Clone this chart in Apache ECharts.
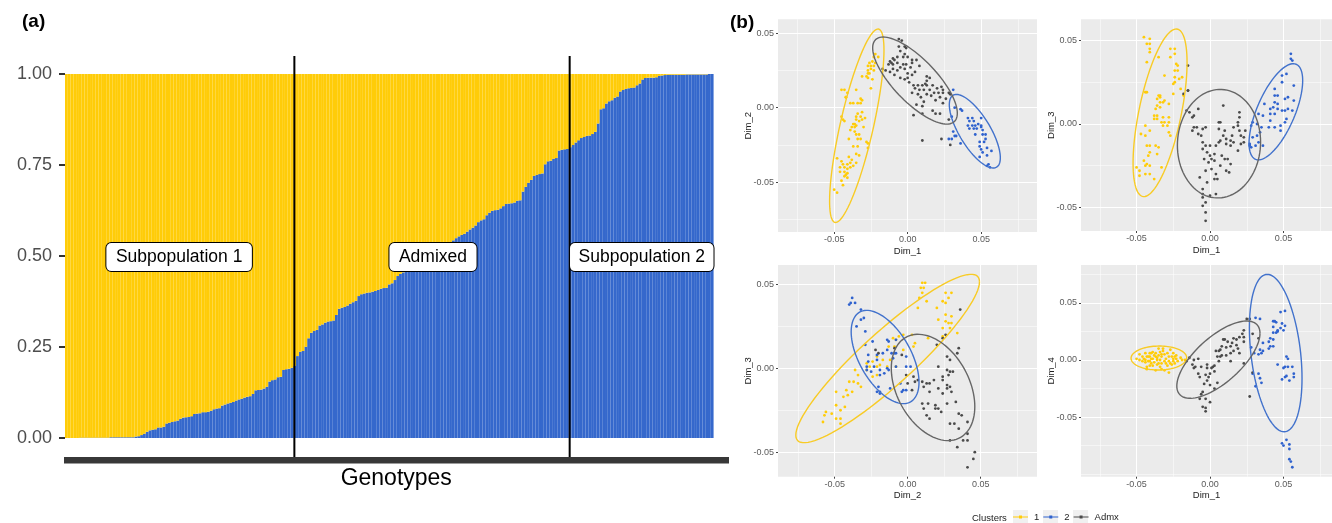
<!DOCTYPE html>
<html><head><meta charset="utf-8">
<style>html,body{margin:0;padding:0;background:#fff}#c{width:1332px;height:523px}</style>
<script src="https://cdn.jsdelivr.net/npm/echarts@6/dist/echarts.min.js"></script>
</head><body><div id="c"></div>
<script>
// Panel (a): blue (Subpopulation 2) share of each genotype, read bar by bar
const share2 = [0,0,0,0,0,.001,.001,.001,.001,.001,.001,.001,.001,.001,.001,.001,.002,.002,.002,.002,.002,.002,.002,.002,.002,
.004,.005,.008,.012,.017,.021,.023,.024,.029,.029,.031,.040,.042,.044,.046,.048,.053,.056,.057,.058,.060,.066,.067,.068,.071,.071,.072,.075,.079,.081,.082,.089,.092,.095,.097,.099,.103,.106,.108,.111,.113,.115,.121,.131,.132,.133,.136,.141,.155,.159,.161,.167,.168,.187,.189,.190,.193,.198,
.225,.237,.239,.251,.274,.289,.294,.297,.309,.312,.317,.320,.321,.323,.338,.355,.358,.360,.364,.369,.373,.377,.390,.395,.397,.399,.400,.402,.404,.407,.410,.412,.413,.422,.425,.434,.445,.451,.455,
.462,.468,.473,.478,.482,.486,.490,.495,.500,.505,.510,.514,.518,.523,.527,.531,.537,.543,.549,.554,
.558,.561,.567,.573,.578,.584,.593,.598,.601,.612,.619,.624,.626,.627,.631,.637,.643,.644,.645,.647,.652,.653,.677,.690,.701,.709,.720,.723,.725,.727,.752,.760,.762,.767,.769,.790,.792,.793,.794,.799,
.805,.812,.818,.824,.827,.830,.831,.835,.841,.864,.903,.906,.919,.925,.928,.935,.938,.952,.956,.959,.961,.962,.963,.969,.974,.985,.989,.990,.990,.990,.991,.995,.996,.997,.998,.998,.998,.998,.998,.998,.998,.999,.999,.999,.999,.999,.999,.999,.999,1,1];
const genotypeSlots = Array.from({length:238},(_,i)=>'G'+(i+1));
const dividerSlots = [82.4,181.3];
const groupLabels = ['Subpopulation 1','Admixed','Subpopulation 2'];
const groupLabelSlots = [41,132.2,207.2];
const groupLabelShare = [.497,.497,.497];
const shareTicks = [0,.25,.5,.75,1];

// Panel (b): points, in thousandths of the Dim units
const d1d2_1 = [[-22,36],[-23,34],[-20,34],[-26,30],[-24,31],[-22,30],[-27,28],[-25,28],[-23,28],[-27,25],[-25,26],[-23,25],[-27,23],[-26,23],[-31,21],[-28,21],[-24,19],[-27,20],[-25,13],[-35,12],[-45,12],[-43,12],[-41,10],[-42,7],[-42,7],[-32,6],[-31,5],[-39,3],[-37,3],[-34,3],[-32,3],[-31,-3],[-34,-4],[-35,-6],[-45,-6],[-44,-8],[-43,-9],[-32,-6],[-29,-7],[-35,-8],[-33,-9],[-37,-11],[-35,-12],[-38,-13],[-36,-13],[-30,-13],[-39,-15],[-35,-18],[-33,-18],[-40,-21],[-34,-21],[-32,-21],[-28,-23],[-27,-24],[-37,-26],[-34,-26],[-27,-27],[-35,-31],[-33,-32],[-48,-34],[-40,-33],[-45,-36],[-39,-37],[-35,-37],[-44,-38],[-41,-38],[-37,-39],[-46,-40],[-43,-40],[-39,-40],[-46,-43],[-41,-44],[-42,-45],[-43,-46],[-45,-49],[-41,-47],[-44,-52],[-50,-55],[-48,-57],[-38,-35],[-43,-43],[-41,-41],[-31,-8],[-36,-16],[-36,-11]];
const d1d2_2 = [[31,12],[36,-1],[37,-2],[32,0],[30,-6],[41,-7],[44,-7],[50,-7],[42,-9],[45,-9],[41,-12],[44,-12],[46,-12],[48,-11],[50,-12],[42,-14],[45,-14],[47,-14],[50,-13],[51,-15],[51,-18],[53,-18],[46,-18],[53,-21],[49,-23],[52,-23],[33,-19],[32,-19],[31,-16],[36,-24],[28,-21],[30,-21],[49,-26],[50,-28],[54,-27],[51,-30],[57,-29],[49,-33],[54,-32],[55,-38],[54,-39],[56,-40]];
const d1d2_a = [[-6,46],[-4,45],[-6,41],[-2,41],[-1,40],[-5,38],[-2,36],[-7,34],[-10,33],[-12,31],[-9,32],[-3,34],[0,34],[3,32],[6,32],[-11,30],[-13,29],[-10,29],[-7,30],[-3,29],[-1,29],[3,30],[2,27],[-17,26],[-15,25],[-12,24],[-10,26],[-7,25],[-2,26],[0,23],[3,22],[-9,22],[-5,20],[-2,19],[0,20],[13,21],[15,20],[13,18],[4,15],[7,15],[10,15],[13,15],[17,15],[20,13],[23,14],[24,12],[5,13],[8,12],[11,12],[15,12],[3,10],[7,9],[13,9],[21,10],[24,10],[28,10],[29,9],[22,7],[19,5],[11,4],[6,2],[10,1],[24,3],[17,-2],[19,-4],[22,-4],[4,-5],[10,-4],[28,-8],[10,-22],[23,-21],[29,-25],[5,24],[8,28],[-5,27],[16,8],[9,7],[26,6],[12,16],[1,17],[18,10]];

const d1d3_1 = [[-45,52],[-41,51],[-43,48],[-41,48],[-41,45],[-41,43],[-35,40],[-27,45],[-24,45],[-24,42],[-27,40],[-43,37],[-23,36],[-22,35],[-31,29],[-24,32],[-22,32],[-24,28],[-19,28],[-21,27],[-24,25],[-25,24],[-20,21],[-44,19],[-43,19],[-25,18],[-18,17],[-35,17],[-34,17],[-36,15],[-34,16],[-31,14],[-32,13],[-34,13],[-36,11],[-34,10],[-37,9],[-28,12],[-38,5],[-36,5],[-32,4],[-28,4],[-38,3],[-36,3],[-33,1],[-31,1],[-28,1],[-29,-1],[-32,-1],[-44,-1],[-41,-4],[-47,-6],[-44,-7],[-28,-5],[-27,-7],[-43,-13],[-41,-13],[-37,-13],[-35,-14],[-41,-17],[-42,-19],[-36,-18],[-45,-22],[-43,-24],[-50,-26],[-48,-28],[-44,-25],[-41,-25],[-33,-26],[-48,-31],[-44,-30],[-41,-30],[-38,-33]];
const d1d3_2 = [[55,42],[55,39],[56,38],[52,30],[49,29],[49,25],[44,21],[44,17],[46,17],[57,23],[51,15],[53,16],[44,13],[46,12],[37,12],[57,14],[41,9],[43,10],[46,9],[49,8],[51,8],[53,9],[56,8],[41,6],[44,6],[52,3],[51,1],[36,5],[33,6],[41,2],[40,-2],[44,-2],[48,-1],[48,-4],[29,1],[28,-1],[32,0],[35,-2],[34,-5],[32,-7],[29,-8],[33,-11],[27,-12],[28,-14],[31,-13],[36,-13],[27,-13]];
const d1d3_a = [[-15,35],[-15,20],[-18,18],[-15,20],[9,11],[-16,8],[-14,7],[-8,9],[-11,5],[-12,4],[20,7],[20,4],[6,1],[7,1],[19,-1],[16,-2],[19,1],[-11,-2],[-12,-4],[-9,-2],[-3,-2],[-5,-3],[-8,-6],[-6,-7],[6,-3],[10,-4],[15,-7],[20,-4],[24,-4],[23,-8],[21,-7],[9,-7],[11,-9],[7,-10],[6,-11],[14,-10],[16,-11],[-5,-11],[-3,-13],[0,-13],[4,-13],[23,-11],[19,-16],[21,-12],[14,-13],[11,-12],[-5,-15],[-2,-17],[0,-19],[1,-21],[-4,-21],[3,-18],[8,-19],[10,-21],[12,-21],[14,-24],[7,-25],[3,-22],[-1,-23],[11,-28],[13,-29],[-3,-28],[1,-27],[4,-30],[-7,-32],[3,-33],[5,-33],[-2,-35],[-5,-39],[-5,-42],[0,-43],[4,-42],[-5,-44],[-3,-47],[-5,-49],[-3,-53],[-3,-58]];

const d2d3_1 = [[10,51],[12,51],[9,48],[11,48],[10,45],[8,42],[13,40],[7,36],[26,45],[30,45],[24,40],[28,42],[26,39],[20,36],[26,32],[21,29],[30,31],[26,28],[28,27],[30,27],[24,24],[29,24],[34,21],[14,18],[24,19],[3,20],[-3,20],[-6,19],[-10,18],[-8,17],[-13,13],[-9,13],[5,15],[4,13],[-3,11],[-21,7],[-24,4],[-17,5],[-12,5],[-28,-1],[-26,1],[-21,1],[-14,1],[-8,1],[-36,-1],[-34,-4],[-24,-5],[-21,-4],[-40,-8],[-37,-8],[-42,-13],[-38,-14],[-49,-14],[-41,-16],[-44,-17],[-49,-22],[-43,-23],[-46,-25],[-52,-27],[-56,-26],[-57,-28],[-58,-32],[-49,-30],[-46,-30],[-46,-33],[-32,-11],[-34,-9],[-19,2],[-28,3]];
const d2d3_2 = [[-38,42],[-40,38],[-39,39],[-36,39],[-32,35],[-30,30],[-32,29],[-35,25],[-29,22],[-24,16],[-29,14],[-14,17],[-13,16],[-8,17],[-27,8],[-21,8],[-14,11],[-17,9],[-11,9],[-9,9],[-8,9],[-21,5],[-27,4],[-10,6],[-1,7],[-28,1],[-23,1],[-19,-1],[-14,0],[-13,-1],[-8,1],[-1,1],[2,1],[-25,-2],[-28,-1],[-19,-4],[-16,-3],[-20,-11],[-21,-14],[-19,-14],[-12,-12],[-5,-9],[-1,-13],[-4,-14],[-3,-13],[-19,-15]];
const d2d3_a = [[36,35],[26,20],[24,18],[20,14],[35,12],[34,9],[27,7],[29,5],[-22,11],[-20,9],[-9,12],[-4,8],[21,1],[27,-1],[29,-2],[31,-2],[24,-5],[28,-4],[-1,-4],[4,-5],[5,-8],[7,-7],[10,-8],[13,-9],[15,-9],[18,-7],[24,-7],[29,-11],[27,-10],[0,-9],[3,-13],[11,-11],[15,-14],[21,-12],[27,-12],[24,-15],[30,-14],[10,-21],[14,-21],[19,-22],[21,-24],[27,-21],[33,-20],[11,-24],[13,-28],[15,-30],[19,-24],[23,-26],[35,-27],[37,-28],[29,-33],[32,-33],[35,-36],[41,-32],[41,-39],[38,-43],[29,-43],[41,-43],[34,-47],[46,-50],[45,-54],[41,-59]];

const d1d4_1 = [[-50,1],[-48,5],[-44,6],[-41,6],[-39,7],[-35,10],[-32,8],[-27,9],[-25,6],[-23,4],[-20,2],[-17,0],[-45,1],[-44,-2],[-42,-1],[-40,1],[-37,3],[-35,4],[-33,3],[-31,5],[-28,3],[-25,1],[-43,-6],[-41,-5],[-38,-2],[-36,0],[-34,0],[-31,-1],[-28,-1],[-25,-1],[-23,1],[-43,-8],[-37,-9],[-33,-8],[-28,-11],[-33,-3],[-29,-5],[-39,-5],[-48,0],[-46,3],[-43,3],[-41,-1],[-36,-4],[-19,0],[-22,-1],[-40,6],[-32,10],[-34,7],[-37,6],[-26,-4],[-24,3],[-44,0],[-39,1],[-34,-6],[-31,-9],[-42,3],[-38,4],[-30,1],[-26,3],[-35,-3],[-30,-3],[-46,-1],[-41,3],[-33,5],[-29,6],[-36,2],[-40,-3],[-27,-3],[-24,-3]];
const d1d4_2 = [[31,37],[34,36],[48,42],[51,43],[43,34],[44,34],[45,33],[49,32],[51,30],[43,29],[48,28],[46,26],[45,24],[43,24],[50,26],[41,19],[43,18],[46,25],[40,16],[36,15],[34,9],[41,12],[43,12],[40,10],[36,8],[35,6],[33,5],[28,11],[30,6],[52,3],[53,1],[46,-4],[51,-6],[53,-6],[56,-6],[50,-7],[29,-12],[33,-12],[34,-16],[35,-20],[31,-23],[52,-14],[51,-15],[57,-12],[57,-15],[49,-17],[54,-18],[49,-73],[52,-70],[50,-75],[54,-74],[54,-78],[54,-87],[55,-89],[56,-94]];
const d1d4_a = [[25,36],[27,36],[29,23],[23,26],[22,23],[23,20],[20,20],[18,18],[16,19],[9,18],[10,18],[12,16],[15,15],[14,12],[11,11],[8,12],[6,8],[7,9],[4,8],[5,3],[8,4],[11,4],[16,8],[19,10],[23,16],[23,-3],[33,19],[20,6],[14,6],[-14,2],[-16,-1],[-11,0],[-8,1],[-12,-4],[-10,-6],[-11,-7],[-6,-6],[-2,-4],[1,-7],[2,-6],[3,-5],[6,-1],[7,3],[-8,-12],[-7,-15],[-3,-13],[-1,-15],[0,-12],[3,-10],[-2,-18],[-4,-21],[0,-22],[5,-20],[3,-25],[-5,-28],[-6,-30],[-7,-34],[-3,-34],[0,-37],[-5,-41],[-3,-42],[-3,-45],[27,-32],[29,-11],[14,-1],[18,13],[-2,-7]];

// Ellipses: centre x, centre y, half-extent x, half-extent y, correlation
const e1 = {c1:[-.0346,-.0121,.0185,.0649,.78], c2:[.0457,-.0158,.01735,.0247,-.72], a:[.005,.0182,.0288,.0292,-.75]};
const e2 = {c1:[-.034,.0067,.01837,.0502,.6], c2:[.0448,.0073,.01825,.0288,.65], a:[.0061,-.0118,.0283,.0325,.03]};
const e3 = {c1:[-.0137,.00586,.0629,.0502,.91], c2:[-.01545,.00676,.02323,.0278,-.54], a:[.0174,-.0114,.0286,.0317,-.36]};
const e4 = {c1:[-.0348,.00175,.01893,.0105,.02], c2:[.0447,.0061,.0179,.069,-.32], a:[.0057,.0003,.0283,.0339,.68]};

const clusterNames = ['1','2','Admx'];
const majorX = [-.05,0,.05];
const majorY = [-.05,0,.05];
const minorX = [-.075,-.025,.025,.075];
const minorYa = [-.075,-.025,.025];
const minorYb = [-.025,.025];
const minorYc = [-.1,-.075,-.025,.025,.075];

const YEL='#FFCC08', BLU='#3568CC', GRY='#4a4a4a';
const ptCol={ '1':YEL, '2':'#2F62CE', 'Admx':GRY };
const ellCol={ '1':'#F8CB25', '2':'#4272CC', 'Admx':'#666666' };
const FONT='"Liberation Sans", Arial, sans-serif';

const panels=[
 {box:[778,19.3,259,212.7],xr:[-.0882,.088],yr:[-.0834,.0593],xn:'Dim_1',yn:'Dim_2',minY:minorYa,pts:[d1d2_1,d1d2_2,d1d2_a],ell:e1},
 {box:[1081,19.3,251,211.7],xr:[-.0878,.083],yr:[-.0641,.0627],xn:'Dim_1',yn:'Dim_3',minY:minorYb,pts:[d1d3_1,d1d3_2,d1d3_a],ell:e2},
 {box:[778,265,259,211.7],xr:[-.0888,.0886],yr:[-.0646,.0616],xn:'Dim_2',yn:'Dim_3',minY:minorYb,pts:[d2d3_1,d2d3_2,d2d3_a],ell:e3},
 {box:[1081,265,251,211.7],xr:[-.0878,.083],yr:[-.1023,.0833],xn:'Dim_1',yn:'Dim_4',minY:minorYc,pts:[d1d4_1,d1d4_2,d1d4_a],ell:e4}
];

const grids=[{left:65,top:56,width:662.5,height:401,show:false}];
const S0=-.0522, S1=1.0495;
const noLine={show:false,onZero:false};
const xAxes=[
 {type:'category',gridIndex:0,data:genotypeSlots,position:'bottom',
  name:'Genotypes',nameLocation:'middle',nameGap:10,nameMoveOverlap:false,nameTextStyle:{fontSize:23,color:'#000',fontFamily:FONT,verticalAlign:'top'},
  axisLine:noLine,axisLabel:{show:false},splitLine:{show:false},
  axisTick:{show:true,interval:0,length:6.5,lineStyle:{color:'#383838',width:3}}},
 {type:'value',gridIndex:0,min:0,max:238,show:false,axisLine:noLine}
];
const yAxes=[
 {type:'value',gridIndex:0,min:S0,max:S1,
  axisLine:noLine,splitLine:{show:false},
  axisTick:{show:true,length:6,customValues:shareTicks,lineStyle:{color:'#333',width:2}},
  axisLabel:{show:true,customValues:shareTicks,formatter:v=>v.toFixed(2),fontSize:18,color:'#4d4d4d',margin:13,fontFamily:FONT}}
];
const series=[
 {type:'bar',name:'Subpopulation 2 share',xAxisIndex:0,yAxisIndex:0,stack:'q',barWidth:'100%',data:share2,itemStyle:{color:BLU},silent:true},
 {type:'bar',name:'Subpopulation 1 share',xAxisIndex:0,yAxisIndex:0,stack:'q',barWidth:'100%',data:share2.map(v=>+(1-v).toFixed(3)),itemStyle:{color:YEL},silent:true}
];
dividerSlots.forEach(s=>series.push({type:'line',xAxisIndex:1,yAxisIndex:0,data:[[s,S0],[s,S1]],symbol:'none',lineStyle:{color:'#000',width:2},z:5,silent:true}));
const pads=[[5,9.5],[5,9.5],[5,8.5]];
series.push({type:'scatter',xAxisIndex:1,yAxisIndex:0,symbolSize:1,itemStyle:{color:'rgba(0,0,0,0)',opacity:1},z:6,silent:true,
 data:groupLabels.map((n,i)=>({name:n,value:[groupLabelSlots[i],groupLabelShare[i]],
   label:{padding:pads[i]}})),
 label:{show:true,position:'inside',formatter:'{b}',fontSize:17.5,color:'#000',fontFamily:FONT,backgroundColor:'#fff',borderColor:'#000',borderWidth:1,borderRadius:5,opacity:1}});

function ellipseRender(col){
 return function(params,api){
  const cx=api.value(0),cy=api.value(1),rx=api.value(2),ry=api.value(3),r=api.value(4);
  const q=Math.sqrt(1-r*r),pts=[];
  for(let k=0;k<=96;k++){const t=k/96*2*Math.PI;
   pts.push(api.coord([cx+rx*Math.cos(t),cy+ry*(r*Math.cos(t)+q*Math.sin(t))]));}
  return {type:'polyline',shape:{points:pts},style:{fill:null,stroke:col,lineWidth:1.4}};
 };
}
panels.forEach((p,i)=>{
 const gi=i+1;
 grids.push({left:p.box[0],top:p.box[1],width:p.box[2],height:p.box[3],show:true,backgroundColor:'#EBEBEB',borderWidth:0});
 const xi=xAxes.length, yi=yAxes.length;
 xAxes.push({type:'value',gridIndex:gi,min:p.xr[0],max:p.xr[1],name:p.xn,nameLocation:'middle',nameGap:14,nameMoveOverlap:false,
   nameTextStyle:{fontSize:9.5,color:'#222',fontFamily:FONT},
   axisLine:noLine,axisTick:{show:true,length:2,customValues:majorX,lineStyle:{color:'#444',width:1}},
   axisLabel:{show:true,customValues:majorX,formatter:v=>v.toFixed(2),fontSize:9,color:'#5a5a5a',margin:3.5,fontFamily:FONT},
   splitLine:{show:true,lineStyle:{color:'#fff',width:1.1}}});
 xAxes.push({type:'value',gridIndex:gi,min:p.xr[0],max:p.xr[1],axisLine:noLine,axisLabel:{show:false},
   axisTick:{show:false,customValues:minorX},splitLine:{show:true,lineStyle:{color:'#fff',width:.5}}});
 yAxes.push({type:'value',gridIndex:gi,min:p.yr[0],max:p.yr[1],name:p.yn,nameLocation:'middle',nameGap:25,nameRotate:90,nameMoveOverlap:false,
   nameTextStyle:{fontSize:9.5,color:'#222',fontFamily:FONT},
   axisLine:noLine,axisTick:{show:true,length:2,customValues:majorY,lineStyle:{color:'#444',width:1}},
   axisLabel:{show:true,customValues:majorY,formatter:v=>v.toFixed(2),fontSize:9,color:'#5a5a5a',margin:4,fontFamily:FONT},
   splitLine:{show:true,lineStyle:{color:'#fff',width:1.1}}});
 yAxes.push({type:'value',gridIndex:gi,min:p.yr[0],max:p.yr[1],axisLine:noLine,axisLabel:{show:false},
   axisTick:{show:false,customValues:p.minY},splitLine:{show:true,lineStyle:{color:'#fff',width:.5}}});
 clusterNames.forEach((n,c)=>{
  series.push({type:'scatter',name:n,xAxisIndex:xi,yAxisIndex:yi,symbolSize:2.8,itemStyle:{color:ptCol[n],opacity:1},silent:true,
   data:p.pts[c].map(q=>[q[0]/1000,q[1]/1000])});
 });
 [['1','c1'],['2','c2'],['Admx','a']].forEach(([n,k])=>{
  series.push({type:'custom',xAxisIndex:xi,yAxisIndex:yi,silent:true,z:3,clip:true,
   renderItem:ellipseRender(ellCol[n]),encode:{x:0,y:1},data:[p.ell[k]]});
 });
});

const chart=echarts.init(document.getElementById('c'),null,{renderer:'canvas'});
chart.setOption({
 animation:false,backgroundColor:'#fff',
 textStyle:{fontFamily:FONT},
 title:[
  {text:'(a)',left:17,top:7,textStyle:{fontSize:19,fontWeight:'bold',color:'#000',fontFamily:FONT}},
  {text:'(b)',left:725,top:8,textStyle:{fontSize:19,fontWeight:'bold',color:'#000',fontFamily:FONT}}
 ],
 grid:grids,xAxis:xAxes,yAxis:yAxes,series:series,
 legend:{show:true,left:1013,top:512,orient:'horizontal',selectedMode:false,itemWidth:15,itemHeight:12,itemGap:4,padding:0,
  data:clusterNames.map(n=>({name:n,icon:'path://M0 5.5H6V4.5H9V5.5H15V6.5H9V7.5H6V6.5H0Z'})),
  textStyle:{fontSize:9.5,color:'#222',fontFamily:FONT,padding:[0,0,0,1]}},
 graphic:[
  {type:'text',left:972,top:513,style:{text:'Clusters',fontSize:9.5,fill:'#222',fontFamily:FONT}},
  {type:'rect',shape:{x:1013,y:510,width:15,height:13},style:{fill:'#F0F0F0'},z:-1},
  {type:'rect',shape:{x:1043,y:510,width:15,height:13},style:{fill:'#F0F0F0'},z:-1},
  {type:'rect',shape:{x:1073,y:510,width:15,height:13},style:{fill:'#F0F0F0'},z:-1}
 ]
});
</script></body></html>
